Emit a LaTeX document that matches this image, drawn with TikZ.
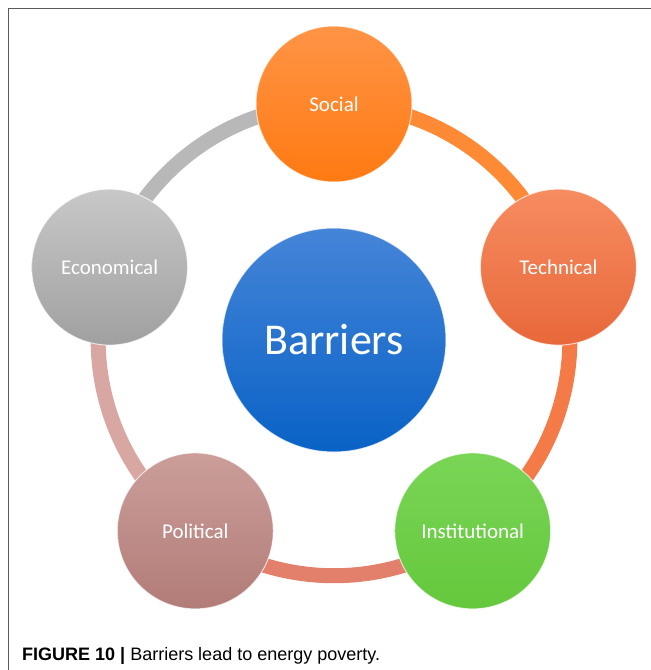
\documentclass[tikz,border=0pt]{standalone}
\usepackage{fontspec}
\setmainfont{Carlito}
\newfontfamily\capfont{Liberation Sans}
\usetikzlibrary{backgrounds}

\definecolor{frameline}{HTML}{5A5A5A}
\definecolor{soctop}{HTML}{FF9446}
\definecolor{socbot}{HTML}{FF7A12}
\definecolor{techtop}{HTML}{F68C60}
\definecolor{techbot}{HTML}{E8683A}
\definecolor{insttop}{HTML}{7AD556}
\definecolor{instbot}{HTML}{64C83C}
\definecolor{poltop}{HTML}{CB9E9A}
\definecolor{polbot}{HTML}{B27C78}
\definecolor{ecotop}{HTML}{C8C8C8}
\definecolor{ecobot}{HTML}{A0A0A0}
\definecolor{bartop}{HTML}{4585D8}
\definecolor{barbot}{HTML}{0962C6}
\definecolor{arcsoc}{HTML}{FF8A35}
\definecolor{arctech}{HTML}{F47A48}
\definecolor{arcinst}{HTML}{E2806C}
\definecolor{arcpol}{HTML}{D9A7A2}
\definecolor{arceco}{HTML}{B8B8B8}

\tikzset{
  ball/.style={circle, minimum size=156pt, inner sep=0pt, text=white,
    draw=white, draw opacity=0.7, line width=1pt,
    font=\fontsize{21}{21}\selectfont},
  bigball/.style={ball, minimum size=224pt, font=\fontsize{44}{44}\selectfont},
  ring/.style={line width=15pt, bend left=36, looseness=0.94},
}

\begin{document}
\begin{tikzpicture}[x=1pt,y=1pt]
	\useasboundingbox (0,0) rectangle (651,-670);
	\draw[frameline, line width=1pt] (8,-670) -- (8,-8) -- (651,-8);

	\node[bigball, top color=bartop, bottom color=barbot] at (334,-340) (barriers) {Barriers};

	\node[ball, top color=soctop, bottom color=socbot] at (334,-104) (social) {Social};
	\node[ball, top color=techtop, bottom color=techbot] at (558.4,-267.1) (technical) {Technical};
	\node[ball, top color=insttop, bottom color=instbot] at (472.7,-530.9) (institutional) {Institutional};
	\node[ball, top color=poltop, bottom color=polbot] at (195.3,-530.9) (political) {Political};
	\node[ball, top color=ecotop, bottom color=ecobot] at (109.6,-267.1) (economical) {Economical};

	\begin{scope}[on background layer]
		\draw[ring, arcsoc] (social.center) to (technical.center);
		\draw[ring, arctech] (technical.center) to (institutional.center);
		\draw[ring, arcinst] (institutional.center) to (political.center);
		\draw[ring, arcpol] (political.center) to (economical.center);
		\draw[ring, arceco] (economical.center) to (social.center);
	\end{scope}

	\node[anchor=base west, inner sep=0pt, font=\capfont\fontsize{18}{18}\selectfont] at (22,-660) (caption) {\textbf{FIGURE 10 |} Barriers lead to energy poverty.};
\end{tikzpicture}
\end{document}
